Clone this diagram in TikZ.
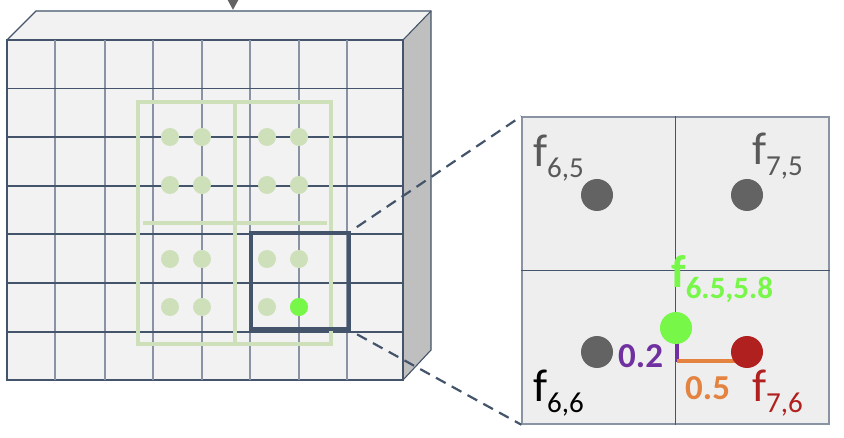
\documentclass[tikz,border=0pt]{standalone}
\usepackage{fontspec}
\setmainfont{Carlito}
\usetikzlibrary{arrows.meta}
\definecolor{slate}{HTML}{44546A}
\definecolor{gridgray}{HTML}{8A93A4}
\definecolor{facegray}{HTML}{F2F2F2}
\definecolor{sidegray}{HTML}{BFBFBF}
\definecolor{panelgray}{HTML}{EEEEEE}
\definecolor{poolgreen}{HTML}{CDE0BA}
\definecolor{hotgreen}{HTML}{77F748}
\definecolor{dotgray}{HTML}{636363}
\definecolor{labgray}{HTML}{595959}
\definecolor{dotred}{HTML}{B0201E}
\definecolor{violet}{HTML}{7030A0}
\definecolor{amber}{HTML}{E4823F}
\newcommand\fsub[2][29]{\fontsize{46}{46}\selectfont f\raisebox{-11pt}{\fontsize{#1}{#1}\selectfont#2}}
\begin{document}
\begin{tikzpicture}[x=1pt,y=-1pt,
  edge/.style={draw=slate,line width=1.1pt},
  vline/.style={draw=gridgray,line width=1.6pt},
  hline/.style={draw=slate,line width=1.1pt},
  pool/.style={draw=poolgreen,line width=4pt},
  winbox/.style={draw=slate,line width=4pt,minimum width=98pt,minimum height=96pt,inner sep=0pt},
  panel/.style={draw=gridgray,fill=panelgray,line width=1.4pt,minimum size=307pt,inner sep=0pt},
  divider/.style={draw=slate,line width=1pt},
  zoomline/.style={draw=slate,line width=2.2pt,dash pattern=on 11pt off 7pt,shorten <=7pt},
  dot/.style={circle,fill=dotgray,minimum size=32pt,inner sep=0pt},
  lab/.style={anchor=base west,inner sep=0pt},
  num/.style={anchor=base west,inner sep=0pt,font=\fontsize{35}{35}\selectfont\bfseries}]
\useasboundingbox (0,0) rectangle (844,438);
% cube
\fill[facegray] (7,40) -- (36,11) -- (431,11) -- (403,40) -- cycle;
\fill[sidegray] (403,40) -- (431,11) -- (431,350) -- (403,380) -- cycle;
\draw[edge] (7,40) -- (36,11) -- (431,11) -- (431,350) -- (403,380);
\draw[edge] (431,11) -- (403,40);
\draw[edge,fill=facegray] (7,40) rectangle (403,380);
\foreach \x in {55,105,153,202,250,299,347}
  \draw[vline] (\x,40) -- (\x,380);
\foreach \y in {88.5,137,186,234,283,332}
  \draw[hline] (7,\y) -- (403,\y);
\draw[-{Triangle[length=11pt,width=11pt]},line width=2.5pt,dotgray] (233,-12) -- (233,10);
% pooling windows
\draw[pool] (138,102) rectangle (331,344);
\draw[pool] (235,102) -- (235,344);
\draw[pool] (143,223) -- (327,223);
\foreach \x in {170,202,267,299}
  \foreach \y in {137,185,259,307}
    \fill[poolgreen] (\x,\y) circle (9pt);
\fill[hotgreen] (299,307) circle (9pt);
\node[winbox] (win) at (300,281) {};
% zoomed window
\node[panel] (zoom) at (675.5,270.5) {};
\draw[divider] (zoom.north) -- (zoom.south);
\draw[divider] (zoom.west) -- (zoom.east);
\draw[zoomline] (win.north east) -- (zoom.north west);
\draw[zoomline] (win.south east) -- (zoom.south west);
\coordinate (foot) at (677,361);
\draw[violet,line width=4pt] (677,328) -- (677,362);
\draw[amber,line width=4pt] (foot) -- (747,361);
\node[dot] (f65) at (597,195) {};
\node[dot] (f75) at (747,195) {};
\node[dot] (f66) at (597,352) {};
\node[dot,fill=dotred] (f76) at (747,352) {};
\node[dot,fill=hotgreen] (fmid) at (676,328) {};
% labels
\node[lab,text=labgray] (l65) at (533,167) {\fsub{6,5}};
\node[lab,text=labgray] (l75) at (752,165) {\fsub{7,5}};
\node[lab] (l66) at (533,402) {\fsub{6,6}};
\node[lab,text=dotred] (l76) at (752,402) {\fsub{7,6}};
\node[lab,text=hotgreen,font=\bfseries] (lmid) at (671,288) {\fsub[31]{6.5,5.8}};
\node[num,text=violet] (dy) at (618,368) {0.2};
\node[num,text=amber] (dx) at (685,400) {0.5};
\end{tikzpicture}
\end{document}
